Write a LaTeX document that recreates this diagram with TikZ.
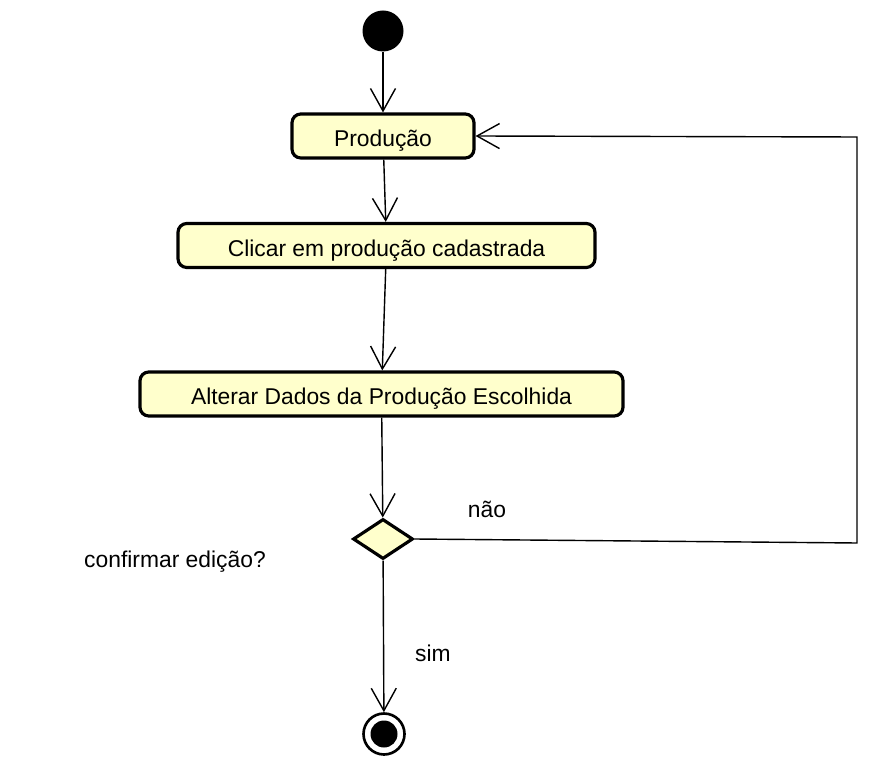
\documentclass[tikz,border=0pt]{standalone}
\usepackage{fontspec}
\setmainfont{Liberation Sans}
\usepackage{tikz}
\usepackage{xcolor}
\usetikzlibrary{positioning, arrows.meta, shapes.geometric}
\definecolor{actfill}{HTML}{FFFFCC}

\begin{document}
\begin{tikzpicture}[
        act/.style={rectangle, rounded corners=5pt, draw=black, line width=1.8pt, fill=actfill, minimum height=0.88cm, inner sep=0pt, text height=15pt, text depth=2.7pt},
        flow/.style={line width=0.8pt, -{Straight Barb[length=0.45cm, width=0.5cm, line width=0.8pt]}},
        lbl/.style={font=\fontsize{13}{15}\selectfont}
    ]
            \useasboundingbox (0, 0) rectangle (17.84, -15.34);
            \node[circle, fill=black, minimum size=0.82cm, inner sep=0pt] (start) at (7.66, -0.62) {};
            \node[act, minimum width=3.64cm, lbl] (prod) at (7.66, -2.72) {Produção};
            \node[act, minimum width=8.34cm, lbl] (clicar) at (7.73, -4.91) {Clicar em produção cadastrada\hspace{12pt}};
            \node[act, minimum width=9.66cm, lbl] (alterar) at (7.63, -7.88) {Alterar Dados da Produção Escolhida\hspace{8pt}};
            \node[diamond, draw=black, line width=1.8pt, fill=actfill, minimum width=1.2cm, minimum height=0.8cm, inner sep=0pt] (dec) at (7.66, -10.78) {};
            \node[circle, draw=black, line width=1.5pt, fill=white, minimum size=0.82cm, inner sep=0pt] (end) at (7.68, -14.68) {};
            \node[circle, fill=black, minimum size=0.54cm, inner sep=0pt] (endin) at (end) {};
            \coordinate (c1) at (17.14, -10.86);
            \coordinate (c2) at (17.14, -2.74);

            \node[lbl] (nao) at (9.74, -10.18) {não};
            \node[lbl] (conf) at (3.5, -11.24) {confirmar edição?};
            \node[lbl] (sim) at (8.66, -13.06) {sim};

            \draw[flow] (start) -- (prod);
            \draw[flow] (prod) -- (clicar);
            \draw[flow] (clicar) -- (alterar);
            \draw[flow] (alterar) -- (dec);
            \draw[flow] (dec) -- (end);
            \draw[flow] (dec.east) -- (c1) -- (c2) -- (prod.east);
        \end{tikzpicture}
\end{document}
